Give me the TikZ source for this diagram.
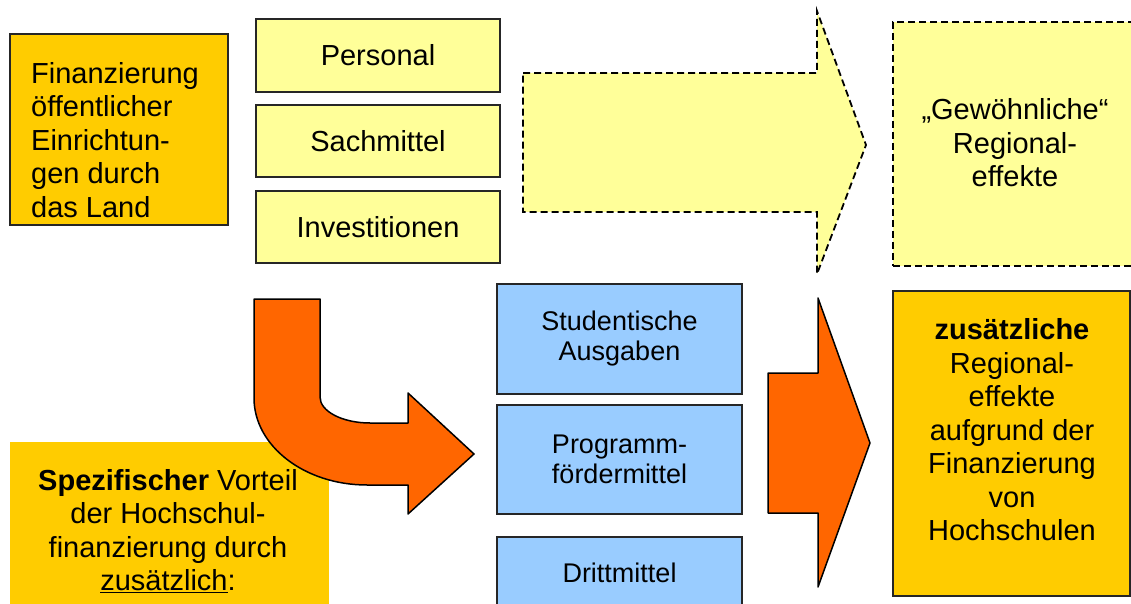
\documentclass[tikz,border=0pt]{standalone}
\usepackage{fontspec}
\setmainfont{Liberation Sans}
\definecolor{gold}{HTML}{FFCC00}
\definecolor{paleyellow}{HTML}{FFFF99}
\definecolor{lightblue}{HTML}{99CCFF}
\definecolor{flame}{HTML}{FF6600}
\begin{document}
\begin{tikzpicture}[x=1bp,y=-1bp,
  bigtext/.style={font=\fontsize{29bp}{33.5bp}\selectfont, inner sep=0pt},
  smalltext/.style={font=\fontsize{27bp}{30bp}\selectfont, inner sep=0pt, align=center},
  goldbox/.style={fill=gold, draw=black!85, line width=1.5bp, inner sep=0pt},
  yellowbox/.style={fill=paleyellow, draw=black!85, line width=1.5bp, inner sep=0pt, minimum width=244bp, minimum height=73bp, font=\fontsize{29bp}{33.5bp}\selectfont},
  bluebox/.style={fill=lightblue, draw=black!85, line width=1.5bp, inner sep=0pt, minimum width=245bp},
  dashedbox/.style={fill=paleyellow, draw=black, line width=2bp, dash pattern=on 7bp off 4bp},
  bigarrow/.style={fill=flame, draw=black, line width=1.5bp, line join=round},
]
\useasboundingbox (0,0) rectangle (1131,604);
\clip (0,0) rectangle (1131,604);

% top-left source box
\node[goldbox, minimum width=218bp, minimum height=191bp] (land) at (119,129.5) {};
\node[bigtext, align=left, anchor=west] (landtext) at (31,140)
  {Finanzierung\\öffentlicher\\Einrichtun-\\gen durch\\das Land};

% yellow boxes
\node[yellowbox] (personal) at (378,55.5) {Personal};
\node[yellowbox, minimum height=72bp] (sach) at (378,141) {Sachmittel};
\node[yellowbox, minimum height=72bp] (invest) at (378,227) {Investitionen};

% dashed arrow
\draw[dashedbox, line width=1.8bp] (523,73) -- (817,73) -- (817,11) -- (866,145)
  -- (817,274) -- (817,212) -- (523,212) -- cycle;

% Gewoehnliche box
\node[dashedbox, minimum width=241bp, minimum height=244bp, inner sep=0pt] (gew) at (1013.5,144) {};
\node[bigtext, align=center] (gewtext) at (1015,143) {„Gewöhnliche“\\Regional-\\effekte};

% Spezifischer box
\node[fill=gold, minimum width=319bp, minimum height=170bp, inner sep=0pt, anchor=north west] (spez) at (10,442) {};
\node[bigtext, align=center] (speztext) at (168,531)
  {\textbf{Spezifischer} Vorteil\\der Hochschul-\\finanzierung durch\\\underline{zusätzlich}:};

% curved orange arrow (on top of the Spezifischer box)
\draw[bigarrow] (254,299) -- (320,299) -- (320,397)
  .. controls (320,411.4) and (342.4,423) .. (370,423)
  -- (408,423) -- (408,393) -- (474,454) -- (408,514) -- (408,485) -- (367,485)
  .. controls (304.6,485) and (254,446) .. (254,398) -- cycle;

% blue boxes
\node[bluebox, minimum height=110bp, smalltext] (stud) at (619.5,339) {Studentische\\Ausgaben};
\node[bluebox, minimum height=109bp, smalltext] (prog) at (619.5,459.5) {Programm-\\fördermittel};
\node[bluebox, minimum height=72bp] (dritt) at (619.5,573) {};
\node[smalltext] (dritttext) at (619.5,573) {Drittmittel};

% second orange arrow
\draw[bigarrow] (768,373) -- (818,373) -- (818,298) -- (870,443) -- (818,587)
  -- (818,513) -- (768,513) -- cycle;

% zusaetzliche box
\node[goldbox, minimum width=237bp, minimum height=305bp] (zus) at (1011.5,443.5) {};
\node[bigtext, align=center] (zustext) at (1012,430)
  {\textbf{zusätzliche}\\Regional-\\effekte\\aufgrund der\\Finanzierung\\von\\Hochschulen};
\end{tikzpicture}
\end{document}
